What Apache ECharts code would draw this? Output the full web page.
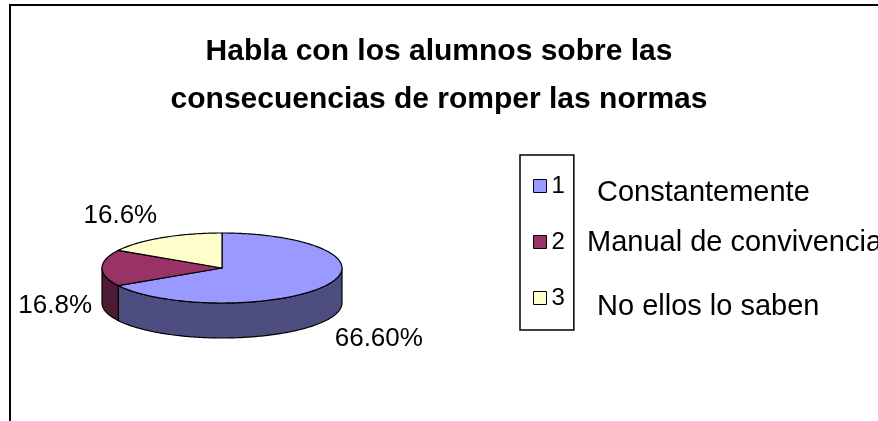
<!DOCTYPE html>
<html>
<head>
<meta charset="utf-8">
<script src="https://cdn.jsdelivr.net/npm/echarts@6/dist/echarts.min.js"></script>
<style>
  html, body { margin: 0; padding: 0; background: #fff; }
  #chart { width: 878px; height: 421px; }
</style>
</head>
<body>
<div id="chart"></div>
<script>
// Legend keys, their descriptions and the share of each answer (percent)
const categories = ['1', '2', '3'];
const categoryText = ['Constantemente', 'Manual de convivencia', 'No ellos lo saben'];
const shares = [66.6, 16.8, 16.6];
const shareLabels = ['66.60%', '16.8%', '16.6%'];

// Face colours (top) and the darker shade used for the rim
const topColors = ['#9999FF', '#993366', '#FFFFCC'];
const sideColors = ['#4D4D80', '#4D1A33', '#808066'];

const FONT = '"Liberation Sans", Arial, sans-serif';

// Tilted pie geometry: centre, horizontal / vertical radius, rim depth
const PIE = { cx: 222, cy: 268, rx: 120, ry: 35, depth: 35 };

const total = shares.reduce((a, b) => a + b, 0);
const startShare = shares.map((_, i) => shares.slice(0, i).reduce((a, b) => a + b, 0));

function rim(theta, drop) {
  return [PIE.cx + PIE.rx * Math.sin(theta), PIE.cy - PIE.ry * Math.cos(theta) + drop];
}
function arcPoints(a, b, drop) {
  const pts = [];
  const n = Math.max(2, Math.ceil(Math.abs(b - a) / (Math.PI / 180)));
  for (let k = 0; k <= n; k++) pts.push(rim(a + (b - a) * k / n, drop));
  return pts;
}

function makeRenderer(idx) {
  return function (params, api) {
    const value = api.value(0);
    const a0 = startShare[idx] / total * Math.PI * 2;
    const a1 = a0 + value / total * Math.PI * 2;
    const children = [];

    // visible front wall: the part of the slice between 90° and 270°
    const w0 = Math.max(a0, Math.PI / 2);
    const w1 = Math.min(a1, Math.PI * 3 / 2);
    if (w1 > w0) {
      const pts = arcPoints(w0, w1, 0).concat(arcPoints(w1, w0, PIE.depth));
      children.push({
        type: 'polygon', z2: 1,
        shape: { points: pts },
        style: { fill: sideColors[idx], stroke: '#000', lineWidth: 1.2, lineJoin: 'round' }
      });
    }

    // top face
    const topPts = [[PIE.cx, PIE.cy]].concat(arcPoints(a0, a1, 0));
    children.push({
      type: 'polygon', z2: 10,
      shape: { points: topPts },
      style: { fill: topColors[idx], stroke: '#000', lineWidth: 1.2, lineJoin: 'round' }
    });

    // percentage label outside the slice
    const mid = (a0 + a1) / 2;
    const s = Math.sin(mid), c = Math.cos(mid);
    const side = Math.abs(c) <= 0.2;
    const anchor = rim(mid, c < 0.1 ? PIE.depth : 0);
    const gap = 10;
    children.push({
      type: 'text', z2: 20,
      x: anchor[0] + s * gap,
      y: anchor[1] - c * gap + (side ? 3 : 0),
      style: {
        text: shareLabels[idx],
        fill: '#000',
        font: '26px ' + FONT,
        align: s > 0.2 ? 'left' : (s < -0.2 ? 'right' : 'center'),
        verticalAlign: c > 0.2 ? 'bottom' : (c < -0.2 ? 'top' : 'middle')
      }
    });

    return { type: 'group', children: children };
  };
}

const series = categories.map((name, i) => ({
  type: 'custom',
  name: name,
  coordinateSystem: 'none',
  silent: true,
  itemStyle: { color: topColors[i] },
  data: [[shares[i]]],
  renderItem: makeRenderer(i)
}));

const chart = echarts.init(document.getElementById('chart'));
chart.setOption({
  animation: false,
  backgroundColor: '#fff',
  title: {
    text: 'Habla con los alumnos sobre las\nconsecuencias de romper las normas',
    left: 'center',
    top: 23,
    textStyle: {
      fontFamily: FONT, fontSize: 30, fontWeight: 'bold', color: '#000', lineHeight: 48
    }
  },
  legend: {
    data: categories,
    orient: 'vertical',
    left: 520,
    top: 155,
    padding: [19, 9, 20, 13],
    itemGap: 32,
    itemWidth: 13,
    itemHeight: 13,
    icon: 'rect',
    selectedMode: false,
    borderColor: '#000',
    borderWidth: 1.5,
    itemStyle: { borderColor: '#000', borderWidth: 1 },
    textStyle: { fontFamily: FONT, fontSize: 24, lineHeight: 24, color: '#000' }
  },
  graphic: [
    {
      type: 'rect', silent: true,
      shape: { x: 10, y: 5, width: 900, height: 500 },
      style: { fill: 'none', stroke: '#000', lineWidth: 2 }
    },
    {
      type: 'text', x: 597, y: 193,
      style: { text: categoryText[0], font: '29px ' + FONT, fill: '#000', verticalAlign: 'middle' }
    },
    {
      type: 'text', x: 587, y: 243,
      style: { text: categoryText[1], font: '29px ' + FONT, fill: '#000', verticalAlign: 'middle' }
    },
    {
      type: 'text', x: 597, y: 307,
      style: { text: categoryText[2], font: '29px ' + FONT, fill: '#000', verticalAlign: 'middle' }
    }
  ],
  series: series
});
</script>
</body>
</html>
